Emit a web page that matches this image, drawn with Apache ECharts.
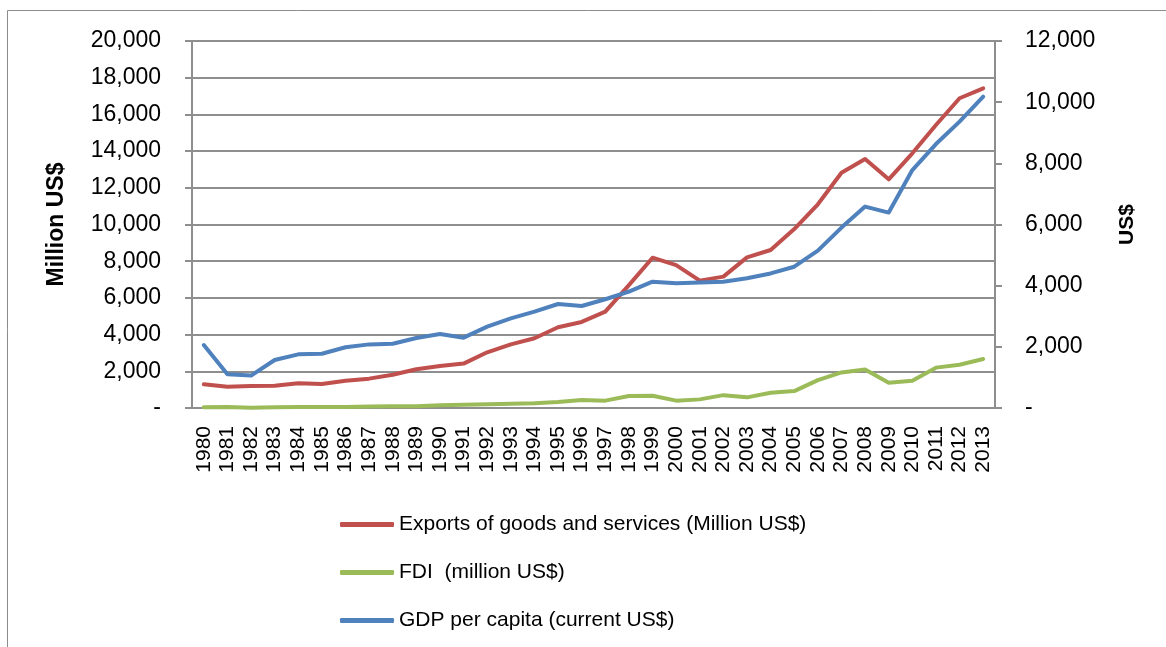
<!DOCTYPE html>
<html>
<head>
<meta charset="utf-8">
<script src="https://cdn.jsdelivr.net/npm/echarts@6/dist/echarts.min.js"></script>
<style>
  html, body { margin: 0; padding: 0; background: #fff; }
  #chart { width: 1166px; height: 647px; }
</style>
</head>
<body>
<div id="chart"></div>
<script>
// Years on the category axis
const years = ['1980','1981','1982','1983','1984','1985','1986','1987','1988','1989',
  '1990','1991','1992','1993','1994','1995','1996','1997','1998','1999',
  '2000','2001','2002','2003','2004','2005','2006','2007','2008','2009',
  '2010','2011','2012','2013'];

// Exports of goods and services, million US$ (left axis)
const exportsMillion = [1290, 1160, 1200, 1215, 1345, 1310, 1490, 1600, 1815, 2110,
  2290, 2420, 3035, 3470, 3800, 4400, 4690, 5250, 6700, 8190,
  7790, 6940, 7160, 8210, 8610, 9750, 11100, 12820, 13570, 12460,
  13880, 15420, 16880, 17420];

// Foreign direct investment, million US$ (left axis)
const fdiMillion = [40, 60, 15, 45, 55, 50, 60, 80, 100, 100,
  150, 180, 200, 230, 260, 330, 430, 400, 650, 670,
  400, 470, 700, 580, 830, 920, 1520, 1940, 2100, 1380,
  1490, 2200, 2360, 2670];

// GDP per capita, current US$ (right axis)
const gdpPerCapita = [2060, 1100, 1060, 1570, 1755, 1775, 1985, 2080, 2100, 2290,
  2420, 2300, 2660, 2930, 3150, 3400, 3335, 3555, 3805, 4130,
  4077, 4100, 4130, 4240, 4400, 4620, 5145, 5900, 6585, 6390,
  7780, 8630, 9365, 10180];

const seriesNames = [
  'Exports of goods and services (Million US$)',
  'FDI  (million US$)',
  'GDP per capita (current US$)'
];

const FONT = "'Liberation Sans', Arial, sans-serif";
const GRID_GRAY = '#8e8e8e';

const fmt = v => v === 0 ? '-' : v.toLocaleString('en-US');

const chart = echarts.init(document.getElementById('chart'), null, { renderer: 'canvas' });

chart.setOption({
  animation: false,
  backgroundColor: '#ffffff',
  textStyle: { fontFamily: FONT, color: '#000' },
  graphic: [{
    type: 'rect',
    shape: { x: 7.5, y: 10.5, width: 1300, height: 800 },
    style: { fill: 'none', stroke: '#8c8c8c', lineWidth: 1 },
    silent: true,
    z: -10
  }],
  grid: { left: 192, right: 171, top: 41, bottom: 239, containLabel: false },
  legend: {
    orient: 'vertical',
    left: 335,
    top: 509,
    itemWidth: 54,
    itemHeight: 5,
    itemGap: 27,
    icon: 'roundRect',
    textStyle: { fontFamily: FONT, fontSize: 21, color: '#000' },
    data: seriesNames
  },
  xAxis: {
    type: 'category',
    data: years,
    boundaryGap: true,
    axisLine: { show: true, lineStyle: { color: GRID_GRAY, width: 2 } },
    axisTick: { show: false },
    axisLabel: { rotate: 90, margin: 18, fontSize: 21, fontFamily: FONT, color: '#000', interval: 0 },
    splitLine: { show: false }
  },
  yAxis: [{
    type: 'value',
    min: 0, max: 20000, interval: 2000,
    name: 'Million US$',
    nameLocation: 'middle',
    nameRotate: 90,
    nameGap: 124,
    nameTextStyle: { fontFamily: FONT, fontSize: 23, fontWeight: 'bold', color: '#000' },
    axisLine: { show: true, lineStyle: { color: GRID_GRAY, width: 2 } },
    axisTick: { show: true, inside: false, length: 7, lineStyle: { color: GRID_GRAY, width: 2 } },
    axisLabel: { margin: 31, fontSize: 23, fontFamily: FONT, color: '#000', formatter: fmt },
    splitLine: { show: true, lineStyle: { color: GRID_GRAY, width: 2 } }
  }, {
    type: 'value',
    position: 'right',
    min: 0, max: 12000, interval: 2000,
    name: 'US$',
    nameLocation: 'middle',
    nameRotate: 90,
    nameGap: 122,
    nameTextStyle: { fontFamily: FONT, fontSize: 21, fontWeight: 'bold', color: '#000' },
    axisLine: { show: true, lineStyle: { color: GRID_GRAY, width: 2 } },
    axisTick: { show: true, inside: false, length: 7, lineStyle: { color: GRID_GRAY, width: 2 } },
    axisLabel: { margin: 30, fontSize: 23, fontFamily: FONT, color: '#000', formatter: fmt },
    splitLine: { show: false }
  }],
  series: [{
    name: seriesNames[0],
    type: 'line',
    yAxisIndex: 0,
    data: exportsMillion,
    showSymbol: false,
    symbol: 'none',
    color: '#c0504d',
    lineStyle: { width: 4, color: '#c0504d', cap: 'round', join: 'round' },
    z: 3
  }, {
    name: seriesNames[1],
    type: 'line',
    yAxisIndex: 0,
    data: fdiMillion,
    showSymbol: false,
    symbol: 'none',
    color: '#9bbb59',
    lineStyle: { width: 4, color: '#9bbb59', cap: 'round', join: 'round' },
    z: 3
  }, {
    name: seriesNames[2],
    type: 'line',
    yAxisIndex: 1,
    data: gdpPerCapita,
    showSymbol: false,
    symbol: 'none',
    color: '#4f81bd',
    lineStyle: { width: 4, color: '#4f81bd', cap: 'round', join: 'round' },
    z: 3
  }]
});
</script>
</body>
</html>
